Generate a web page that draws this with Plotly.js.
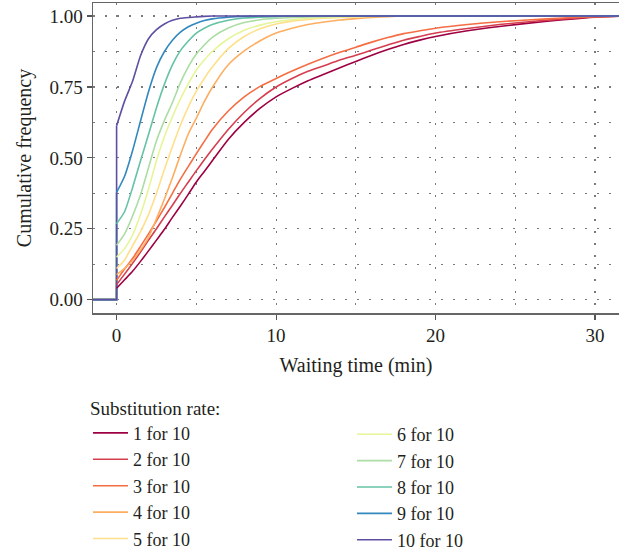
<!DOCTYPE html>
<html>
<head>
<meta charset="utf-8">
<script src="https://cdn.plot.ly/plotly-3.0.1.min.js"></script>
<style>html,body{margin:0;padding:0;background:#fff;}#chart{width:619px;height:554px;}</style>
</head>
<body>
<div id="chart"></div>
<script>
// Waiting time (min) sample points; the repeated 0 gives the vertical jump at t = 0
const waitingTime = [-1.5, 0, 0, 0.5, 1, 1.5, 2, 2.5, 3, 3.5, 4, 4.5, 5, 5.5, 6, 7, 8, 9, 10, 11, 12, 13, 14, 15, 16, 17, 18, 19, 20, 22, 24, 26, 28, 30, 32];

const rate1  = [0, 0, 0.040, 0.070, 0.100, 0.135, 0.172, 0.210, 0.248, 0.290, 0.330, 0.372, 0.415, 0.452, 0.490, 0.565, 0.625, 0.675, 0.715, 0.745, 0.772, 0.795, 0.818, 0.840, 0.862, 0.882, 0.900, 0.915, 0.928, 0.948, 0.963, 0.976, 0.987, 0.996, 1.000];
const rate2  = [0, 0, 0.053, 0.090, 0.128, 0.168, 0.210, 0.250, 0.292, 0.333, 0.375, 0.415, 0.455, 0.493, 0.530, 0.600, 0.660, 0.710, 0.750, 0.780, 0.805, 0.825, 0.845, 0.862, 0.880, 0.898, 0.915, 0.928, 0.940, 0.956, 0.970, 0.981, 0.990, 0.997, 1.000];
const rate3  = [0, 0, 0.068, 0.108, 0.145, 0.188, 0.232, 0.278, 0.325, 0.375, 0.425, 0.470, 0.515, 0.558, 0.600, 0.665, 0.715, 0.752, 0.780, 0.806, 0.830, 0.852, 0.872, 0.890, 0.908, 0.924, 0.938, 0.948, 0.957, 0.970, 0.980, 0.987, 0.993, 0.998, 1.000];
const rate4  = [0, 0, 0.088, 0.110, 0.138, 0.175, 0.220, 0.285, 0.355, 0.430, 0.510, 0.585, 0.640, 0.698, 0.748, 0.828, 0.877, 0.913, 0.940, 0.957, 0.970, 0.979, 0.986, 0.991, 0.995, 0.998, 1.000, 1.000, 1.000, 1.000, 1.000, 1.000, 1.000, 1.000, 1.000];
const rate5  = [0, 0, 0.110, 0.140, 0.190, 0.240, 0.300, 0.375, 0.460, 0.540, 0.615, 0.680, 0.735, 0.780, 0.820, 0.885, 0.928, 0.955, 0.972, 0.982, 0.988, 0.992, 0.995, 0.997, 0.999, 1.000, 1.000, 1.000, 1.000, 1.000, 1.000, 1.000, 1.000, 1.000, 1.000];
const rate6  = [0, 0, 0.150, 0.180, 0.228, 0.300, 0.390, 0.490, 0.575, 0.645, 0.708, 0.762, 0.810, 0.845, 0.875, 0.920, 0.950, 0.968, 0.980, 0.987, 0.992, 0.995, 0.997, 0.999, 1.000, 1.000, 1.000, 1.000, 1.000, 1.000, 1.000, 1.000, 1.000, 1.000, 1.000];
const rate7  = [0, 0, 0.192, 0.232, 0.295, 0.370, 0.465, 0.560, 0.632, 0.695, 0.765, 0.822, 0.866, 0.898, 0.925, 0.958, 0.977, 0.987, 0.992, 0.995, 0.997, 0.999, 1.000, 1.000, 1.000, 1.000, 1.000, 1.000, 1.000, 1.000, 1.000, 1.000, 1.000, 1.000, 1.000];
const rate8  = [0, 0, 0.268, 0.310, 0.395, 0.490, 0.582, 0.677, 0.760, 0.828, 0.878, 0.912, 0.940, 0.957, 0.970, 0.985, 0.993, 0.996, 0.998, 1.000, 1.000, 1.000, 1.000, 1.000, 1.000, 1.000, 1.000, 1.000, 1.000, 1.000, 1.000, 1.000, 1.000, 1.000, 1.000];
const rate9  = [0, 0, 0.378, 0.435, 0.525, 0.630, 0.733, 0.818, 0.875, 0.915, 0.943, 0.962, 0.975, 0.984, 0.990, 0.996, 0.999, 1.000, 1.000, 1.000, 1.000, 1.000, 1.000, 1.000, 1.000, 1.000, 1.000, 1.000, 1.000, 1.000, 1.000, 1.000, 1.000, 1.000, 1.000];
const rate10 = [0, 0, 0.613, 0.700, 0.770, 0.860, 0.920, 0.952, 0.972, 0.985, 0.992, 0.995, 0.997, 0.999, 1.000, 1.000, 1.000, 1.000, 1.000, 1.000, 1.000, 1.000, 1.000, 1.000, 1.000, 1.000, 1.000, 1.000, 1.000, 1.000, 1.000, 1.000, 1.000, 1.000, 1.000];

const seriesNames = ['1 for 10', '2 for 10', '3 for 10', '4 for 10', '5 for 10', '6 for 10', '7 for 10', '8 for 10', '9 for 10', '10 for 10'];
const seriesValues = [rate1, rate2, rate3, rate4, rate5, rate6, rate7, rate8, rate9, rate10];
const seriesColors = ['#9e0142', '#d53e4f', '#f46d43', '#fdae61', '#fee08b', '#e6f598', '#abdda4', '#66c2a5', '#3288bd', '#5e4fa2'];
const legendTitle = 'Substitution rate:';
const xTitle = 'Waiting time (min)';
const yTitle = 'Cumulative frequency';

const FONT = '"Liberation Serif", "Times New Roman", serif';
const TXT = '#231f20';

const traces = [];
// step part (zero before t = 0 and the jump at t = 0), drawn straight
seriesValues.forEach((vals, i) => {
  traces.push({
    type: 'scatter', mode: 'lines',
    x: waitingTime.slice(0, 3), y: vals.slice(0, 3),
    showlegend: false,
    legend: i < 5 ? 'legend' : 'legend2',
    line: {color: seriesColors[i], width: 1.6},
    hoverinfo: 'skip'
  });
});
// smooth cumulative curves from t = 0 on
seriesValues.forEach((vals, i) => {
  traces.push({
    type: 'scatter', mode: 'lines',
    x: waitingTime.slice(2), y: vals.slice(2),
    name: seriesNames[i],
    legend: i < 5 ? 'legend' : 'legend2',
    line: {color: seriesColors[i], width: 1.6, shape: 'spline', smoothing: 0.6},
    hoverinfo: 'skip'
  });
});

const gridDash = '1.5px,10.5px';
const gridColor = '#7a7a7a';

const layout = {
  width: 619,
  height: 554,
  margin: {l: 93, r: 0, t: 3, b: 241, autoexpand: false},
  paper_bgcolor: '#fff',
  plot_bgcolor: '#fff',
  font: {family: FONT, size: 19, color: TXT},
  showlegend: true,
  xaxis: {
    range: [-1.48, 31.5],
    tick0: 0, dtick: 10,
    ticks: 'outside', ticklen: 5, tickwidth: 1.2, tickcolor: '#555',
    showline: true, linecolor: '#666', linewidth: 1.5, mirror: true,
    showgrid: true, gridcolor: gridColor, gridwidth: 1.2, griddash: gridDash,
    minor: {dtick: 5, tick0: 0, showgrid: true, gridcolor: gridColor, gridwidth: 1.2, griddash: gridDash},
    zeroline: false, automargin: true,
    tickfont: {family: FONT, size: 19, color: TXT},
    title: {text: xTitle, font: {family: FONT, size: 20, color: TXT}, standoff: 12}
  },
  yaxis: {
    range: [-0.047, 1.046],
    tick0: 0, dtick: 0.25, tickformat: '.2f',
    ticks: 'outside', ticklen: 5, tickwidth: 1.2, tickcolor: '#555',
    showline: true, linecolor: '#666', linewidth: 1.5, mirror: false,
    showgrid: true, gridcolor: gridColor, gridwidth: 1.2, griddash: gridDash,
    minor: {dtick: 0.125, tick0: 0, showgrid: true, gridcolor: gridColor, gridwidth: 1.2, griddash: gridDash},
    zeroline: false, automargin: true,
    tickfont: {family: FONT, size: 19, color: TXT},
    title: {text: yTitle, font: {family: FONT, size: 20, color: TXT}, standoff: 12}
  },
  legend: {
    x: -0.0095, xanchor: 'left',
    y: -0.2484, yanchor: 'top',
    orientation: 'v',
    bgcolor: 'rgba(0,0,0,0)',
    font: {family: FONT, size: 18, color: TXT},
    title: {text: legendTitle, font: {family: FONT, size: 19, color: TXT}},
    tracegroupgap: 0,
    itemwidth: 35
  },
  legend2: {
    x: 0.4924, xanchor: 'left',
    y: -0.3323, yanchor: 'top',
    orientation: 'v',
    bgcolor: 'rgba(0,0,0,0)',
    font: {family: FONT, size: 18, color: TXT},
    tracegroupgap: 0,
    itemwidth: 35
  }
};

Plotly.newPlot('chart', traces, layout, {displayModeBar: false, staticPlot: true});
</script>
</body>
</html>
